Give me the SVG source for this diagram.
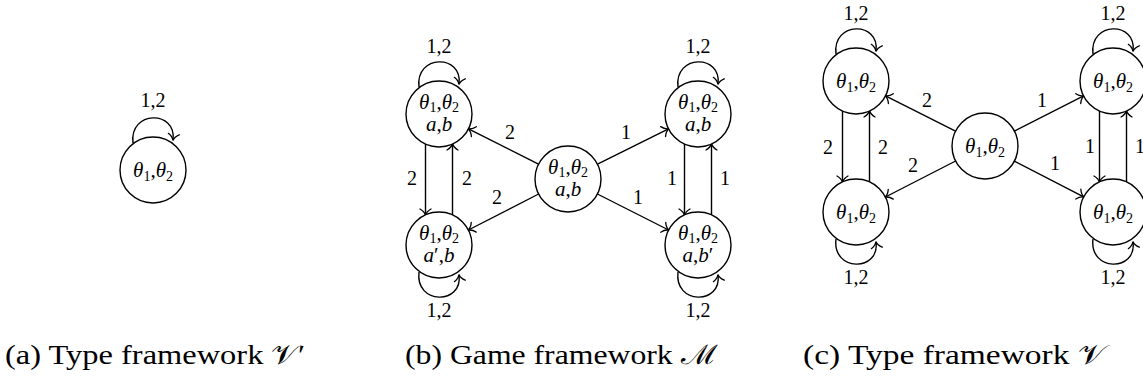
<svg xmlns="http://www.w3.org/2000/svg" width="1143" height="381" viewBox="0 0 1143 381">
<style>
text{font-family:"Liberation Serif","DejaVu Serif",serif;fill:#000}
.n circle{fill:#fff;stroke:#000;stroke-width:1.4}
.e path{fill:none;stroke:#000;stroke-width:1.4;marker-end:url(#arr)}
.lab{font-size:20px;text-anchor:middle}
.nt{font-size:21px;text-anchor:middle}
.i{font-style:italic}
.s{font-size:14px}
.cap{font-size:27px}
</style>
<defs>
<marker id="arr" markerUnits="userSpaceOnUse" orient="auto" viewBox="-9 -7 12 14" markerWidth="12" markerHeight="14" refX="0" refY="0" overflow="visible">
<path d="M-6,-5.5 C-4,-2 -1.5,-0.5 0.5,0 C-1.5,0.5 -4,2 -6,5.5" fill="none" stroke="#000" stroke-width="1.3" stroke-linecap="round"/>
</marker>
</defs>
<rect width="1143" height="381" fill="#fff"/>

<g id="connectors" class="e">
<path d="M133,143 C129,110 177,110 173,140"/>
<path d="M419,87 C415,54 463,54 459,84"/>
<path d="M419,272 C415,305 463,305 459,275"/>
<path d="M678,87 C674,54 722,54 718,84"/>
<path d="M678,272 C674,305 722,305 718,275"/>
<path d="M425.5,144 L425.5,215"/>
<path d="M452.5,215 L452.5,144"/>
<path d="M684.5,144 L684.5,215"/>
<path d="M711.5,215 L711.5,144"/>
<path d="M538.5,164.2 L468.5,128.9"/>
<path d="M538.6,194 L468.4,230"/>
<path d="M597.5,164.2 L668.5,128.9"/>
<path d="M597.4,194 L668.6,230"/>
<path d="M836,54 C832,21 880,21 876,51"/>
<path d="M836,239 C832,272 880,272 876,242"/>
<path d="M1093,54 C1089,21 1137,21 1133,51"/>
<path d="M1093,239 C1089,272 1137,272 1133,242"/>
<path d="M842.5,111 L842.5,182"/>
<path d="M869.5,182 L869.5,111"/>
<path d="M1099.5,111 L1099.5,182"/>
<path d="M1126.5,182 L1126.5,111"/>
<path d="M955.5,131.1 L885.5,95.9"/>
<path d="M955.6,161 L885.4,197"/>
<path d="M1014.4,131.1 L1083.6,95.9"/>
<path d="M1014.3,161.1 L1083.7,196.9"/>
</g>

<g id="edge-labels" class="lab">
<text x="153" y="107">1,2</text>
<text x="439" y="53">1,2</text>
<text x="439" y="317">1,2</text>
<text x="698" y="53">1,2</text>
<text x="698" y="317">1,2</text>
<text x="412" y="185">2</text>
<text x="467" y="185">2</text>
<text x="510" y="139">2</text>
<text x="497" y="204">2</text>
<text x="626" y="139">1</text>
<text x="638" y="204">1</text>
<text x="672" y="185">1</text>
<text x="725" y="185">1</text>
<text x="856" y="20">1,2</text>
<text x="856" y="284">1,2</text>
<text x="1113" y="20">1,2</text>
<text x="1113" y="284">1,2</text>
<text x="828" y="154">2</text>
<text x="883" y="154">2</text>
<text x="927" y="107">2</text>
<text x="913" y="172">2</text>
<text x="1042" y="107">1</text>
<text x="1055" y="170">1</text>
<text x="1090" y="153">1</text>
<text x="1140" y="153">1</text>
</g>

<g id="a-node" class="n">
<circle cx="153" cy="170" r="33"/>
<text class="nt" x="153" y="177"><tspan class="i">θ</tspan><tspan class="s" dy="4">1</tspan><tspan dy="-4">,</tspan><tspan class="i">θ</tspan><tspan class="s" dy="4">2</tspan></text>
</g>

<g id="b-tl" class="n">
<circle cx="439" cy="114" r="33"/>
<text class="nt" x="439" y="109"><tspan class="i">θ</tspan><tspan class="s" dy="3">1</tspan><tspan dy="-3">,</tspan><tspan class="i">θ</tspan><tspan class="s" dy="3">2</tspan><tspan x="439" dy="19" class="i">a</tspan>,<tspan class="i">b</tspan></text>
</g>
<g id="b-bl" class="n">
<circle cx="439" cy="245" r="33"/>
<text class="nt" x="439" y="240"><tspan class="i">θ</tspan><tspan class="s" dy="3">1</tspan><tspan dy="-3">,</tspan><tspan class="i">θ</tspan><tspan class="s" dy="3">2</tspan><tspan x="439" dy="19" class="i">a</tspan>′,<tspan class="i">b</tspan></text>
</g>
<g id="b-c" class="n">
<circle cx="568" cy="179" r="33"/>
<text class="nt" x="568" y="174"><tspan class="i">θ</tspan><tspan class="s" dy="3">1</tspan><tspan dy="-3">,</tspan><tspan class="i">θ</tspan><tspan class="s" dy="3">2</tspan><tspan x="568" dy="19" class="i">a</tspan>,<tspan class="i">b</tspan></text>
</g>
<g id="b-tr" class="n">
<circle cx="698" cy="114" r="33"/>
<text class="nt" x="698" y="109"><tspan class="i">θ</tspan><tspan class="s" dy="3">1</tspan><tspan dy="-3">,</tspan><tspan class="i">θ</tspan><tspan class="s" dy="3">2</tspan><tspan x="698" dy="19" class="i">a</tspan>,<tspan class="i">b</tspan></text>
</g>
<g id="b-br" class="n">
<circle cx="698" cy="245" r="33"/>
<text class="nt" x="698" y="240"><tspan class="i">θ</tspan><tspan class="s" dy="3">1</tspan><tspan dy="-3">,</tspan><tspan class="i">θ</tspan><tspan class="s" dy="3">2</tspan><tspan x="698" dy="19" class="i">a</tspan>,<tspan class="i">b</tspan>′</text>
</g>

<g id="c-tl" class="n">
<circle cx="856" cy="81" r="33"/>
<text class="nt" x="856" y="88"><tspan class="i">θ</tspan><tspan class="s" dy="4">1</tspan><tspan dy="-4">,</tspan><tspan class="i">θ</tspan><tspan class="s" dy="4">2</tspan></text>
</g>
<g id="c-bl" class="n">
<circle cx="856" cy="212" r="33"/>
<text class="nt" x="856" y="219"><tspan class="i">θ</tspan><tspan class="s" dy="4">1</tspan><tspan dy="-4">,</tspan><tspan class="i">θ</tspan><tspan class="s" dy="4">2</tspan></text>
</g>
<g id="c-c" class="n">
<circle cx="985" cy="146" r="33"/>
<text class="nt" x="985" y="153"><tspan class="i">θ</tspan><tspan class="s" dy="4">1</tspan><tspan dy="-4">,</tspan><tspan class="i">θ</tspan><tspan class="s" dy="4">2</tspan></text>
</g>
<g id="c-tr" class="n">
<circle cx="1113" cy="81" r="33"/>
<text class="nt" x="1113" y="88"><tspan class="i">θ</tspan><tspan class="s" dy="4">1</tspan><tspan dy="-4">,</tspan><tspan class="i">θ</tspan><tspan class="s" dy="4">2</tspan></text>
</g>
<g id="c-br" class="n">
<circle cx="1113" cy="212" r="33"/>
<text class="nt" x="1113" y="219"><tspan class="i">θ</tspan><tspan class="s" dy="4">1</tspan><tspan dy="-4">,</tspan><tspan class="i">θ</tspan><tspan class="s" dy="4">2</tspan></text>
</g>

<g id="captions" class="cap">
<text x="5" y="364" textLength="300" lengthAdjust="spacingAndGlyphs">(a) Type framework 𝒱′</text>
<text x="405" y="364" textLength="312" lengthAdjust="spacingAndGlyphs">(b) Game framework ℳ</text>
<text x="803" y="364" textLength="302" lengthAdjust="spacingAndGlyphs">(c) Type framework 𝒱</text>
</g>
</svg>
